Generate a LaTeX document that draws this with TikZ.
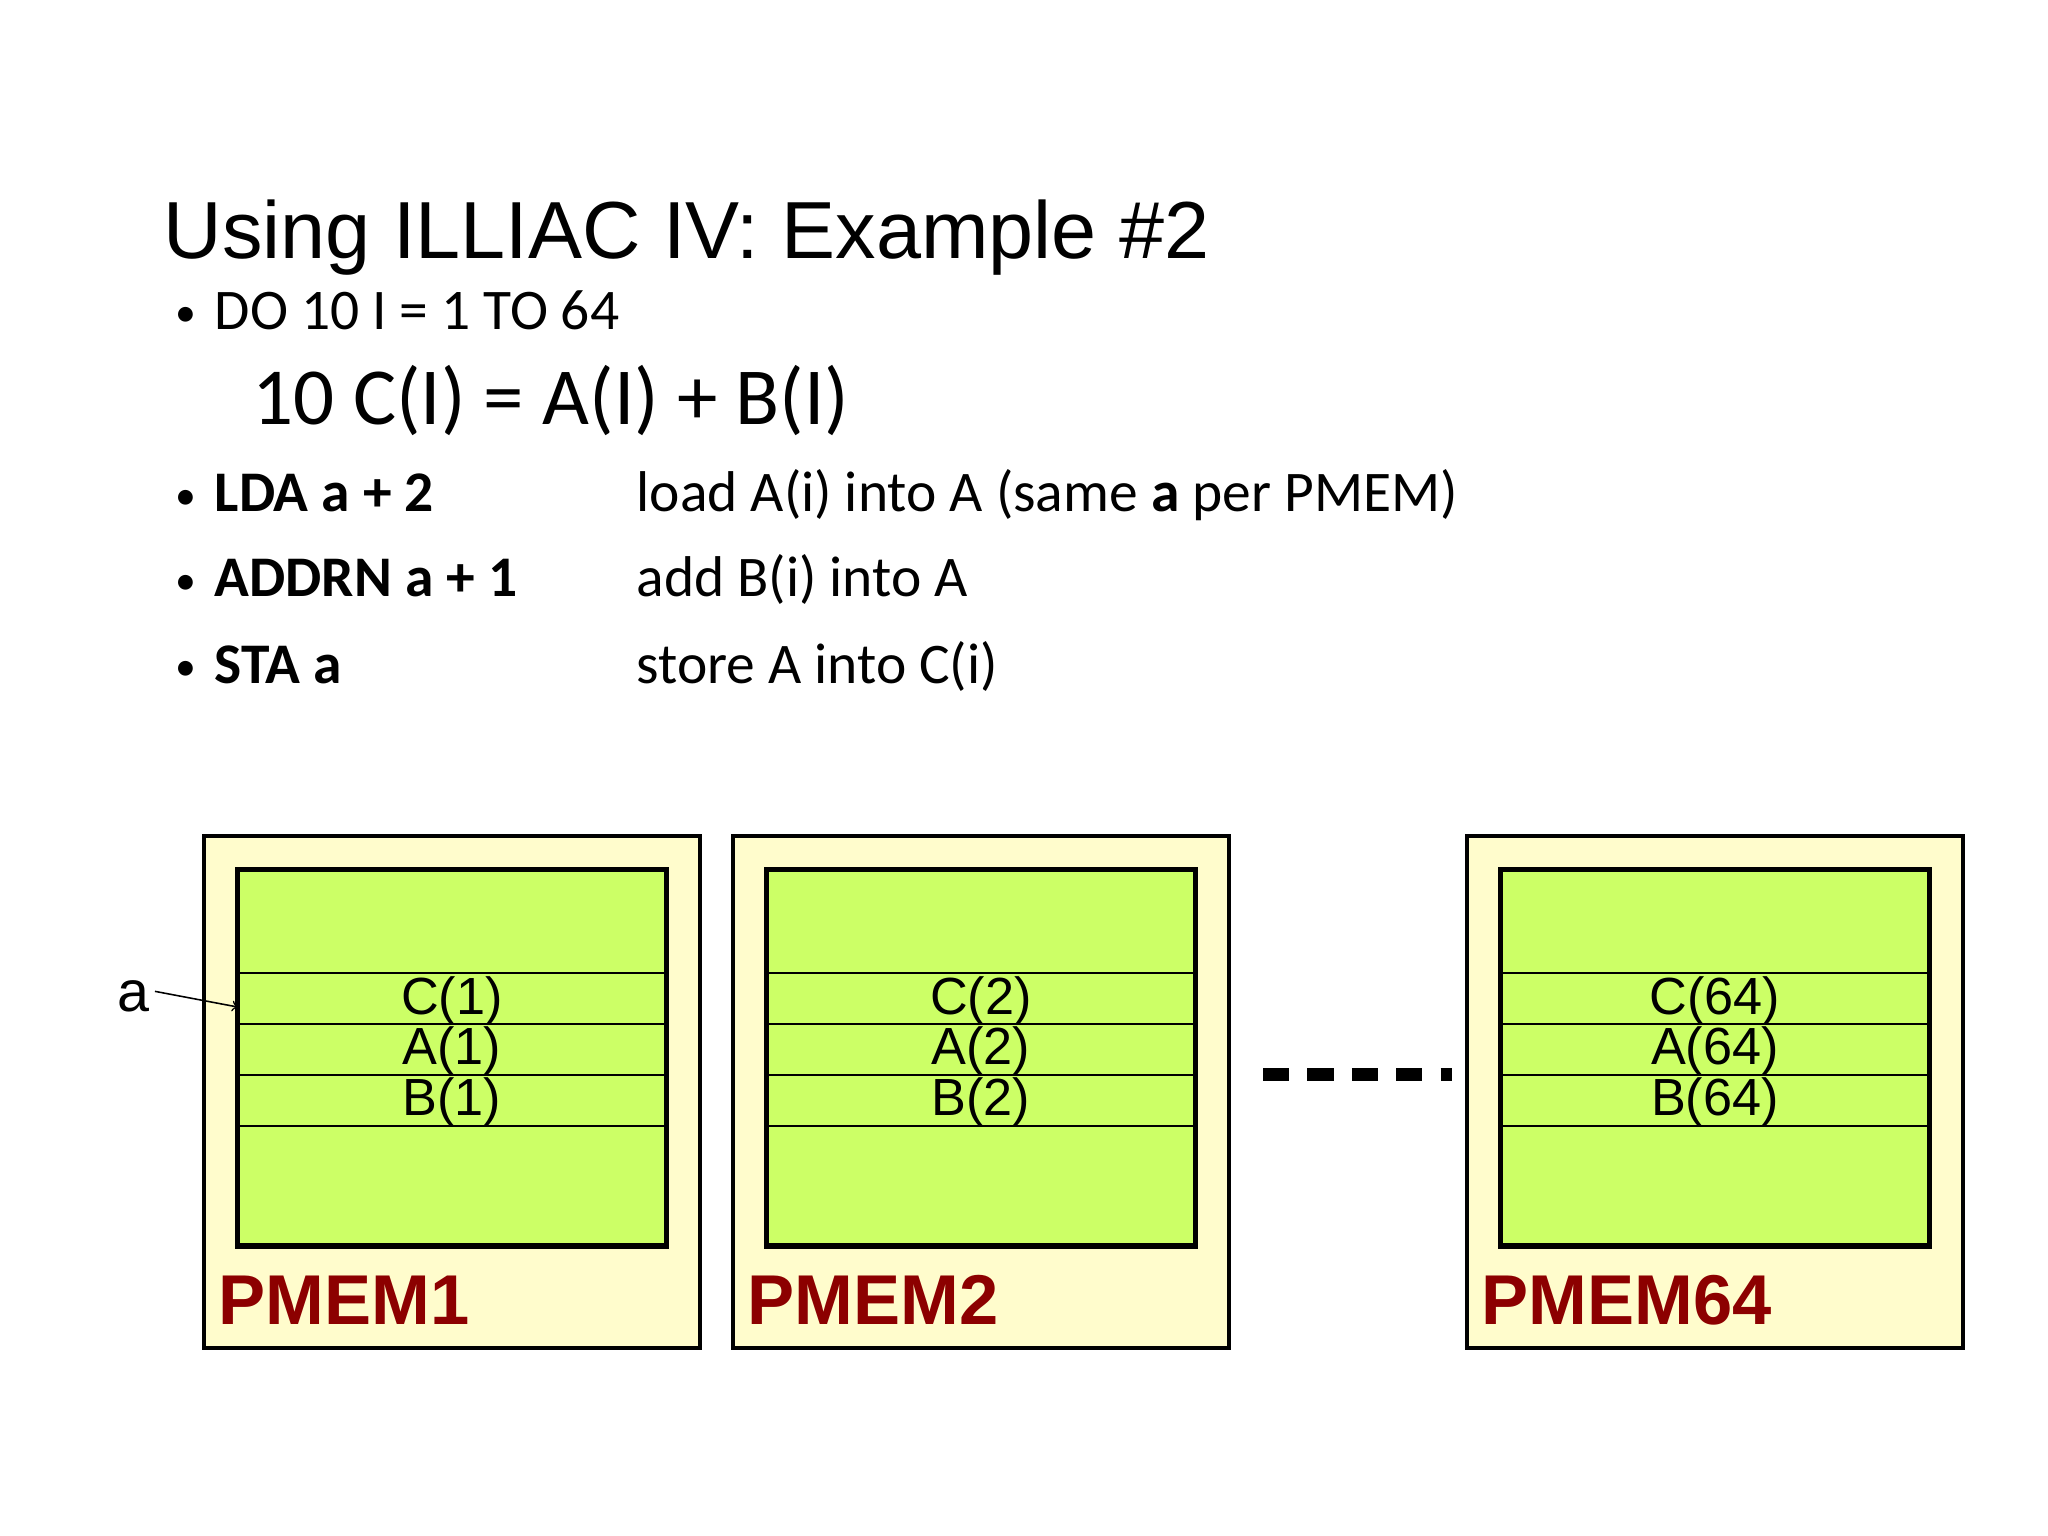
\documentclass[tikz,border=0pt]{standalone}
\usepackage{fontspec}
\setmainfont{Carlito}
\newfontfamily\arial{Liberation Sans}
\begin{document}
\begin{tikzpicture}[x=0.5pt,y=-0.5pt,
  outer/.style={draw=black,line width=1.6pt,fill=yellow!20!white},
  inner/.style={draw=black,line width=2pt,fill={rgb,255:red,204;green,255;blue,102}},
  cell/.style={font=\arial\fontsize{20}{20}\selectfont,inner sep=0pt},
  pm/.style={font=\arial\bfseries\fontsize{27}{27}\selectfont,text={rgb,255:red,140;green,0;blue,0},anchor=base west,inner sep=0pt},
  bt/.style={font=\fontsize{22}{22}\selectfont,anchor=base west,inner sep=0pt},
  bul/.style={font=\fontsize{16}{16}\selectfont,anchor=base west,inner sep=0pt}]
\useasboundingbox (0,0) rectangle (1568,1176);
\node[font=\arial\fontsize{31}{31}\selectfont,anchor=base west,inner sep=0pt] (title) at (125,198) {Using ILLIAC IV: Example \#2};
\node[bul] (b1) at (134,250) {\textbullet};
\node[bt] (t1) at (164,252) {DO 10 I = 1 TO 64};
\node[font=\fontsize{31}{31}\selectfont,anchor=base west,inner sep=0pt] (t2) at (193,325) {10 C(I) = A(I) + B(I)};
\node[bul] (b2) at (134,390) {\textbullet};
\node[bt,font=\bfseries\fontsize{22}{22}\selectfont] (t3) at (164,392) {LDA a + 2};
\node[bt] (d3) at (487,392) {load A(i) into A (same \textbf{a} per PMEM)};
\node[bul] (b3) at (134,455) {\textbullet};
\node[bt,font=\bfseries\fontsize{22}{22}\selectfont] (t4) at (164,457) {ADDRN a + 1};
\node[bt] (d4) at (487,457) {add B(i) into A};
\node[bul] (b4) at (134,521) {\textbullet};
\node[bt,font=\bfseries\fontsize{22}{22}\selectfont] (t5) at (164,523) {STA a};
\node[bt] (d5) at (487,523) {store A into C(i)};
\foreach \x/\n/\l in {156/1/1,561/2/2,1123/3/64}{
  \draw[outer] (\x,640) rectangle (\x+380,1032);
  \draw[inner] (\x+26,666) rectangle (\x+354,954);
  \foreach \yy in {745,784,823,862} \draw[line width=0.6pt] (\x+26,\yy) -- (\x+354,\yy);
  \node[cell] (c\n) at (\x+190,766) {C(\l)};
  \node[cell] (a\n) at (\x+190,805) {A(\l)};
  \node[cell] (bb\n) at (\x+190,844) {B(\l)};
  \node[pm] (p\n) at (\x+11,1014) {PMEM\l};
}
\draw[line width=5pt,dash pattern=on 10pt off 7pt] (967,823) -- (1112,823);
\node[font=\arial\fontsize{22}{22}\selectfont,inner sep=0pt] (alab) at (102,763) {a};
\coordinate (ain) at (182,771);
\draw[->,line width=0.6pt] (alab.east)+(4,-4) -- (ain);
\end{tikzpicture}
\end{document}
